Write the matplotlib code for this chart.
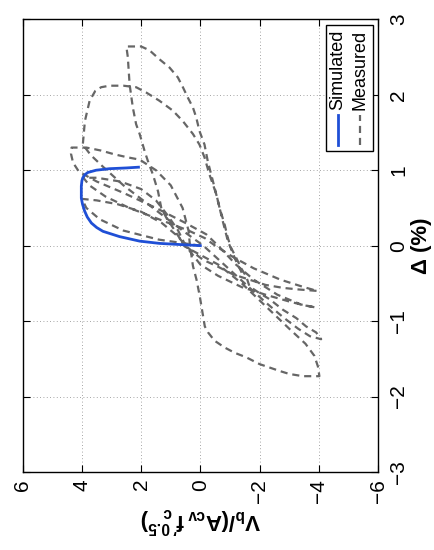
import matplotlib
matplotlib.use('Agg')
import matplotlib.pyplot as plt
from matplotlib.patches import Rectangle
from matplotlib.lines import Line2D
import numpy as np

plt.rcParams['font.family'] = ['Liberation Sans', 'DejaVu Sans']
plt.rcParams['mathtext.fontset'] = 'custom'
plt.rcParams['mathtext.rm'] = 'Liberation Sans'
plt.rcParams['mathtext.bf'] = 'Liberation Sans:bold'
plt.rcParams['mathtext.it'] = 'Liberation Sans:italic'

# simulated pushover (drift %, normalized shear)
delta_sim = [0.0, 0.01, 0.03, 0.06, 0.12, 0.19, 0.24, 0.30, 0.38, 0.46, 0.55, 0.63, 0.79, 0.86, 0.90,
             0.94, 0.97, 1.00, 1.02, 1.03, 1.04]
v_sim = [0.0, 0.47, 1.38, 2.05, 2.73, 3.29, 3.50, 3.68, 3.82, 3.91, 3.98, 4.02, 4.02, 4.0, 3.97,
         3.90, 3.80, 3.52, 3.07, 2.50, 2.09]

# measured cyclic response (drift %, normalized shear)
delta_meas = [
    0.0, 0.08, 0.20, 0.35, 0.50, 0.62,
    0.60, 0.55, 0.45, 0.30, 0.12, 0.0,
    -0.10, -0.19, -0.27, -0.38, -0.45, -0.52, -0.56, -0.58, -0.60,
    -0.55, -0.45, -0.30, -0.15, 0.0, 0.10,
    0.20, 0.35, 0.50, 0.65, 0.80, 0.90,
    0.90, 0.85, 0.75, 0.60, 0.40, 0.20, 0.0,
    -0.10, -0.25, -0.40, -0.55, -0.65, -0.74, -0.79, -0.82,
    -0.78, -0.65, -0.45, -0.25, 0.0, 0.15,
    0.30, 0.50, 0.70, 0.85, 0.98, 1.10, 1.22, 1.30,
    1.30, 1.26, 1.21, 1.17, 1.14, 1.00, 0.80, 0.50, 0.20, 0.0,
    -0.27, -0.45, -0.67, -0.93, -1.07, -1.15, -1.26, -1.35, -1.42, -1.48, -1.57, -1.66, -1.70, -1.73, -1.73,
    -1.60, -1.46, -1.30, -1.10, -0.80, -0.50, -0.25,
    -0.01, 0.10, 0.24, 0.37, 0.50, 0.72, 0.94, 1.12, 1.25, 1.48, 1.61, 1.83, 2.14, 2.32, 2.50, 2.64,
    2.64, 2.59, 2.47, 2.36, 2.23, 2.10, 1.96, 1.83, 1.70, 1.52, 1.34, 1.12, 0.94, 0.77, 0.50, 0.28, 0.10, -0.03,
    -0.16, -0.30, -0.41, -0.54, -0.63, -0.71, -0.85, -0.96, -1.07, -1.15, -1.24,
    -1.20, -1.10, -0.95, -0.75, -0.50, -0.25, 0.0,
    0.20, 0.50, 0.80, 1.05, 1.20, 1.34, 1.65, 1.92, 2.05, 2.10, 2.12, 2.12, 2.10,
    2.03, 1.92, 1.79, 1.65, 1.48, 1.34, 1.17, 0.94, 0.68, 0.32, 0.06, -0.20, -0.40,
]
v_meas = [
    0.0, 1.4, 2.6, 3.4, 3.85, 4.0,
    3.5, 2.8, 2.0, 1.3, 0.75, 0.5,
    0.2, -0.1, -0.55, -1.1, -1.65, -2.2, -2.8, -3.3, -3.95,
    -3.5, -2.7, -1.8, -1.1, -0.5, -0.15,
    0.4, 1.4, 2.4, 3.2, 3.75, 3.95,
    3.5, 2.7, 2.0, 1.5, 1.1, 0.75, 0.5,
    0.3, 0.0, -0.6, -1.4, -2.2, -3.0, -3.5, -3.9,
    -3.4, -2.6, -1.8, -1.2, -0.6, -0.2,
    0.5, 1.5, 2.6, 3.5, 4.1, 4.3, 4.37, 4.35,
    3.85, 3.35, 2.9, 2.45, 2.05, 1.5, 1.0, 0.6, 0.4, 0.35,
    0.25, 0.13, 0.02, -0.09, -0.15, -0.26, -0.48, -0.82, -1.16, -1.55, -2.0, -2.67, -3.0, -3.46, -4.02,
    -3.97, -3.85, -3.55, -3.0, -2.2, -1.4, -0.6,
    0.53, 0.70, 0.93, 1.15, 1.32, 1.43, 1.60, 1.77, 1.88, 2.05, 2.17, 2.28, 2.39, 2.42, 2.45, 2.50,
    2.0, 1.72, 1.38, 1.04, 0.76, 0.59, 0.42, 0.25, 0.14, 0.03, -0.14, -0.25, -0.37, -0.48, -0.65, -0.82, -0.93, -1.04,
    -1.21, -1.38, -1.55, -1.66, -2.0, -2.34, -2.79, -3.24, -3.57, -3.91, -4.08,
    -3.7, -3.3, -2.8, -2.2, -1.5, -0.8, -0.1,
    0.6, 1.6, 2.6, 3.3, 3.7, 3.97, 3.9, 3.74, 3.55, 3.35, 3.07, 2.6, 2.17,
    1.83, 1.38, 0.93, 0.59, 0.25, 0.03, -0.14, -0.31, -0.54, -0.76, -0.93, -1.2, -1.45,
]

v_ticks = [-6, -4, -2, 0, 2, 4, 6]
delta_ticks = [-3, -2, -1, 0, 1, 2, 3]

sim_color = '#1f4fd6'
meas_color = '#666666'

fig = plt.figure(figsize=(4.34, 5.5), dpi=100)
ax = fig.add_axes([0.0523, 0.1418, 0.8187, 0.8231])

# figure is drawn turned by 90 degrees: shear along x (reversed), drift along y
ax.plot(v_meas, delta_meas, color=meas_color, lw=1.6, linestyle=(0, (3.2, 2.2)))
ax.plot(v_sim, delta_sim, color=sim_color, lw=2.0)

ax.set_xlim(6, -6)
ax.set_ylim(-3, 3)
ax.set_xticks(v_ticks)
ax.set_yticks(delta_ticks)
ax.grid(True, color='#888888', lw=0.6, linestyle=(0, (1, 3)))

ax.tick_params(axis='both', direction='in', length=5, width=0.8,
               top=True, bottom=True, left=True, right=True, labelsize=15)
ax.tick_params(axis='x', labelrotation=90, pad=5)
ax.tick_params(axis='y', labelleft=False, labelright=True, labelrotation=90, pad=8)
for lab in ax.get_yticklabels():
    lab.set_va('center')
for sp in ax.spines.values():
    sp.set_linewidth(1.0)

ax.yaxis.set_label_position('right')
ax.set_ylabel('Δ (%)', fontsize=16, fontweight='bold', rotation=90, labelpad=2)
ax.set_xlabel(r"$\mathbf{V_b/(A_{cv}\,f'^{\,0.5}_{c})}$", fontsize=16, rotation=180, labelpad=1)

# legend, turned like the rest
ax.add_patch(Rectangle((0.853, 0.709), 0.134, 0.278, transform=ax.transAxes,
                       facecolor='white', edgecolor='black', lw=1.0, zorder=5))
ax.add_line(Line2D([0.886, 0.886], [0.722, 0.789], transform=ax.transAxes,
                   color=sim_color, lw=2.0, zorder=6))
ax.add_line(Line2D([0.948, 0.948], [0.722, 0.789], transform=ax.transAxes,
                   color=meas_color, lw=1.6, linestyle=(0, (3.2, 2.2)), zorder=6))
ax.text(0.886, 0.80, 'Simulated', transform=ax.transAxes, rotation=90,
        ha='center', va='bottom', fontsize=13, zorder=7)
ax.text(0.948, 0.80, 'Measured', transform=ax.transAxes, rotation=90,
        ha='center', va='bottom', fontsize=13, zorder=7)

fig.savefig('out.png', dpi=100)
